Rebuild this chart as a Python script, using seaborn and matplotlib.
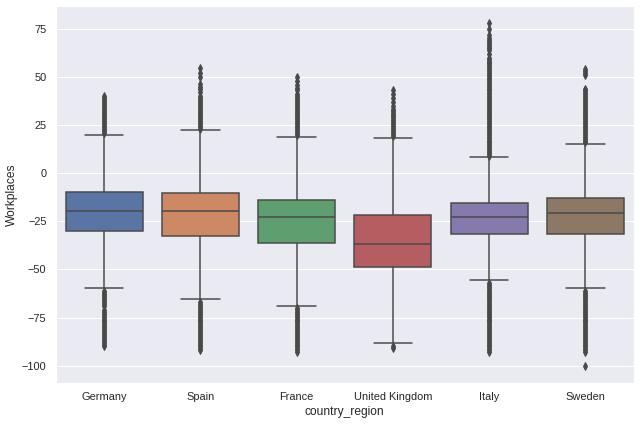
import colorsys
import numpy as np
import pandas as pd
import matplotlib
matplotlib.use("Agg")
import matplotlib.pyplot as plt
import seaborn as sns

countries = ["Germany", "Spain", "France", "United Kingdom", "Italy", "Sweden"]

# box summary: lower whisker, Q1, median, Q3, upper whisker
whisker_low = [-59.8, -65.3, -68.8, -88.4, -55.4, -59.8]
q1 = [-30.0, -32.5, -36.0, -48.7, -31.8, -31.8]
median = [-19.8, -19.8, -22.6, -36.6, -22.6, -20.7]
q3 = [-10.0, -10.5, -14.0, -21.8, -15.5, -13.0]
whisker_high = [19.8, 22.3, 18.8, 18.3, 8.4, 15.0]

# outliers (diamonds)
fliers_low = {
    "Germany": [-61, -62, -63, -64, -65, -66, -67, -68, -69,
                -71, -72, -73, -74, -75, -76, -77, -78, -79, -80, -81, -82,
                -83, -84, -85, -86, -87, -88, -89, -90],
    "Spain": [-67, -68, -69, -70, -71, -72, -73, -74, -75, -76, -77, -78, -79,
              -80, -81, -82, -83, -84, -85, -86, -87, -88, -89, -90, -91, -92],
    "France": [-70, -71, -72, -73, -74, -75, -76, -77, -78, -79, -80, -81, -82,
               -83, -84, -85, -86, -87, -88, -89, -90, -91, -92, -93],
    "United Kingdom": [-90, -91],
    "Italy": [-57, -58, -59, -60, -61, -62, -63, -64, -65, -66, -67, -68, -69,
              -70, -71, -72, -73, -74, -75, -76, -77, -78, -79, -80, -81, -82,
              -83, -84, -85, -86, -87, -88, -89, -90, -91, -92, -93],
    "Sweden": [-61, -62, -63, -64, -65, -66, -67, -68, -69, -70, -71, -72, -73,
               -74, -75, -76, -77, -78, -79, -80, -81, -82, -83, -84, -85, -86,
               -87, -88, -89, -90, -91, -92, -93, -100],
}
fliers_high = {
    "Germany": [21, 22, 23, 24, 25, 26, 27, 28, 29, 30, 31, 32, 33, 34, 35,
                36, 37, 38, 39, 40],
    "Spain": [23, 24, 25, 26, 27, 28, 29, 30, 31, 32, 33, 34, 35, 36, 37, 38,
              39, 40, 42, 43.5, 45, 46.5, 50, 52, 54.5],
    "France": [20, 21, 22, 23, 24, 25, 26, 27, 28, 29, 30, 31, 32, 33, 34, 35,
               36, 37, 38, 39, 40, 41, 43, 44.5, 46, 48, 50],
    "United Kingdom": [19.5, 20.5, 21.5, 22.5, 23.5, 24.5, 25.5, 26.5, 27.5,
                       28.5, 29.5, 30.5, 31.5, 32.5, 33.5, 35, 37, 39, 41, 43],
    "Italy": [9, 10, 11, 12, 13, 14, 15, 16, 17, 18, 19, 20, 21, 22, 23, 24,
              25, 26, 27, 28, 29, 30, 31, 32, 33, 34, 35, 36, 37, 38, 39, 40,
              41, 42, 43, 44, 45, 46, 47, 48, 49, 50, 51, 52, 53, 54, 55, 56,
              57, 58, 59, 60, 62, 64, 65, 66, 67, 68, 69, 70, 72, 75, 78],
    "Sweden": [16, 17, 18, 19, 20, 21, 22, 23, 24, 25, 26, 27, 28, 29, 30, 31,
               32, 33, 34, 35, 36, 37, 38, 39, 40, 41, 42, 43, 44,
               51, 52, 53, 54],
}

# expand the summary into rows so the quartiles land on the read values
rows = []
for i, c in enumerate(countries):
    vals = (fliers_low[c] + [whisker_low[i]] * 150 + [q1[i]] * 300 +
            [median[i]] * 300 + [q3[i]] * 300 + [whisker_high[i]] * 150 +
            fliers_high[c])
    for v in vals:
        rows.append({"country_region": c, "Workplaces": v})
df = pd.DataFrame(rows)

sns.set_theme(style="darkgrid")
plt.rcParams["font.family"] = ["Liberation Sans", "DejaVu Sans"]

# same gray seaborn uses for the box lines
pal = sns.color_palette("deep", len(countries), desat=0.75)
lum = min(colorsys.rgb_to_hls(*c)[1] for c in pal) * 0.6
gray = (lum, lum, lum)

fig, ax = plt.subplots(figsize=(640 / 72, 424 / 72), dpi=72)
sns.boxplot(data=df, x="country_region", y="Workplaces", hue="country_region",
            order=countries, hue_order=countries, palette="deep", legend=False,
            saturation=0.75, width=0.8, linewidth=1.5, fliersize=5,
            flierprops=dict(marker="d", markerfacecolor=gray,
                            markeredgecolor=gray),
            ax=ax)
plt.subplots_adjust(left=0.0875, right=0.99, top=0.986, bottom=0.097)
plt.savefig("out.png", dpi=72)
plt.close()
